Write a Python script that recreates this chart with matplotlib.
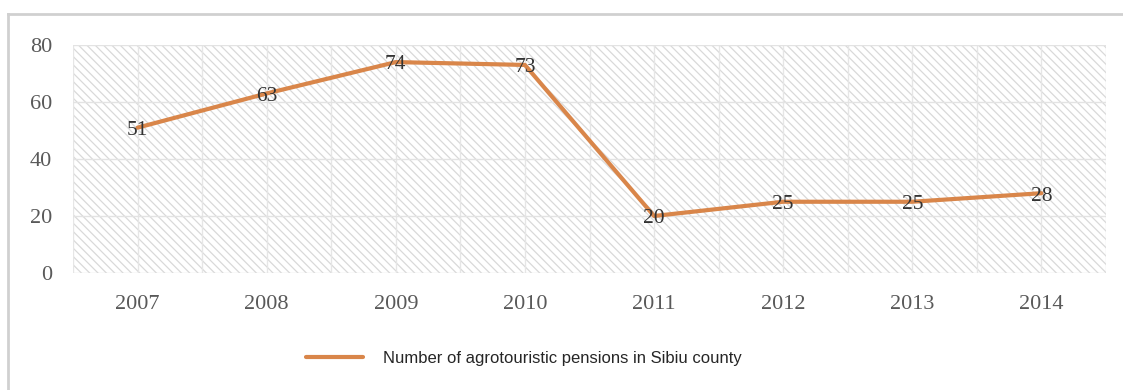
import numpy as np
import matplotlib.pyplot as plt
from matplotlib.patches import Rectangle
import matplotlib as mpl

# Data
years = ['2007', '2008', '2009', '2010', '2011', '2012', '2013', '2014']
pensions = [51, 63, 74, 73, 20, 25, 25, 28]
series_name = 'Number of agrotouristic pensions in Sibiu county'

mpl.rcParams['hatch.color'] = '#d9d9d9'
mpl.rcParams['hatch.linewidth'] = 0.9

fig = plt.figure(figsize=(11.23, 3.9), dpi=100)
W, H = 1123, 390
ax = fig.add_axes([73 / W, 1 - 273 / H, (1106 - 73) / W, (273 - 45) / H])

x = np.arange(len(years))
ax.set_xlim(-0.5, len(years) - 0.5)
ax.set_ylim(0, 80)

# hatched background
ax.add_patch(Rectangle((0, 0), 1, 1, transform=ax.transAxes, facecolor='white',
                       edgecolor='#d9d9d9', hatch='\\\\\\\\', linewidth=0, zorder=0))

# grid lines
for gx in np.arange(-0.5, len(years), 0.5):
    ax.axvline(gx, color='#e6e6e6', linewidth=1, zorder=1)
for gy in range(0, 81, 20):
    ax.axhline(gy, color='#e3e3e3', linewidth=1, zorder=1)

ax.plot(x, pensions, color='#d9864a', linewidth=3, solid_capstyle='round',
        label=series_name, zorder=3)

for xi, v in zip(x, pensions):
    ax.text(xi, v - 1, str(v), ha='center', va='center', fontsize=15.5,
            family='Liberation Serif', color='#333333', zorder=4)

ax.set_xticks(x)
ax.set_xticklabels(years)
ax.set_yticks(range(0, 81, 20))
ax.tick_params(length=0, labelsize=16, labelcolor='#595959')
ax.tick_params(axis='x', pad=16)
ax.tick_params(axis='y', pad=15)
for lbl in ax.get_xticklabels() + ax.get_yticklabels():
    lbl.set_family('Liberation Serif')
for s in ax.spines.values():
    s.set_visible(False)

# outer frame
fig.add_artist(plt.Line2D([8 / W, 8 / W], [0, 1 - 14 / H], color='#d0d0d0', linewidth=2))
fig.add_artist(plt.Line2D([8 / W, 1], [1 - 14 / H, 1 - 14 / H], color='#d0d0d0', linewidth=2))

fig.legend(loc='center', bbox_to_anchor=((308 + 740) / 2 / W, 1 - 358 / H), frameon=False,
           prop={'family': 'Liberation Sans', 'size': 12}, handlelength=3.4,
           handletextpad=1.2, labelcolor='#262626', borderpad=0, borderaxespad=0)

fig.savefig('out.png', dpi=100)
